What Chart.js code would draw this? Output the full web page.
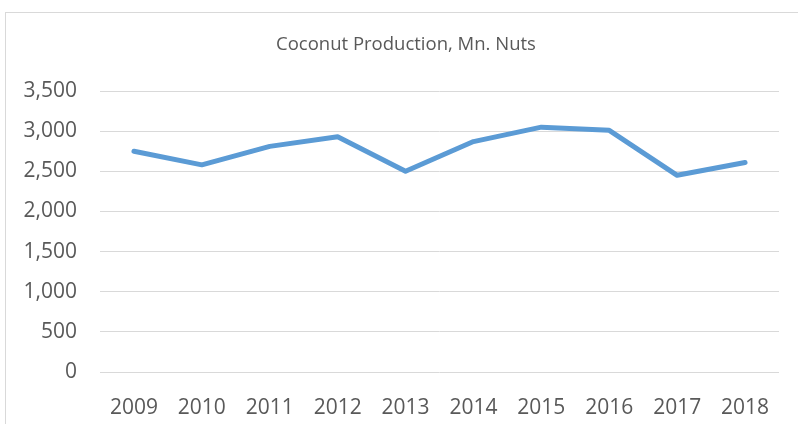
<!DOCTYPE html>
<html>
<head>
<meta charset="utf-8">
<script src="https://cdn.jsdelivr.net/npm/chart.js@4/dist/chart.umd.min.js"></script>
<style>
  html, body { margin: 0; padding: 0; background: #fff; }
  #frame {
    position: absolute; left: 5px; top: 12px; width: 800px; height: 420px;
    border: 1px solid #d9d9d9; box-sizing: border-box;
  }
  #wrap { position: absolute; left: 0; top: 0; width: 798px; height: 424px; }
</style>
</head>
<body>
<div id="frame"></div>
<div id="wrap"><canvas id="chart" width="798" height="424"></canvas></div>
<script>
// Coconut production in million nuts
const years = ['2009', '2010', '2011', '2012', '2013', '2014', '2015', '2016', '2017', '2018'];
const production = [2750, 2580, 2810, 2930, 2500, 2870, 3050, 3010, 2450, 2610];
const yTicks = [0, 500, 1000, 1500, 2000, 2500, 3000, 3500];

const textColor = '#595959';
const fontFamily = '"Open Sans", "Liberation Sans", sans-serif';

// centre the title over the whole frame, not only the plot
const titleSpan = {
    id: 'titleSpan',
    afterLayout(chart) {
        const t = chart.titleBlock;
        if (t) { t.left = 0; t.right = 812; t.width = 812; }
    },
};

const ctx = document.getElementById('chart').getContext('2d');
new Chart(ctx, {
    type: 'line',
    data: {
        labels: years,
        datasets: [{
            label: 'Coconut Production',
            data: production,
            borderColor: '#5b9bd5',
            borderWidth: 5,
            borderCapStyle: 'round',
            borderJoinStyle: 'round',
            pointRadius: 0,
            tension: 0,
            fill: false,
        }],
    },
    options: {
        responsive: false,
        animation: false,
        layout: { padding: { left: 0, right: 19, top: 0, bottom: 0 } },
        plugins: {
            legend: { display: false },
            tooltip: { enabled: false },
            title: {
                display: true,
                text: 'Coconut Production, Mn. Nuts',
                color: textColor,
                font: { family: fontFamily, size: 18.5, weight: 'normal', lineHeight: 1.2 },
                padding: { top: 33.4, bottom: 35.4 },
            },
        },
        scales: {
            x: {
                offset: true,
                grid: { display: false },
                border: { display: false },
                ticks: {
                    color: textColor,
                    font: { family: fontFamily, size: 21 },
                    padding: 15,
                    maxRotation: 0,
                },
                afterFit(scale) { scale.height = 52; },
            },
            y: {
                min: 0,
                max: 3500,
                afterBuildTicks(scale) { scale.ticks = yTicks.map(v => ({ value: v })); },
                grid: { color: '#d9d9d9', lineWidth: 1, drawTicks: false },
                border: { display: false },
                ticks: {
                    color: textColor,
                    font: { family: fontFamily, size: 21 },
                    padding: 23,
                    callback: v => v.toLocaleString('en-US'),
                },
                afterFit(scale) { scale.width = 100; },
            },
        },
    },
    plugins: [titleSpan],
});
</script>
</body>
</html>
